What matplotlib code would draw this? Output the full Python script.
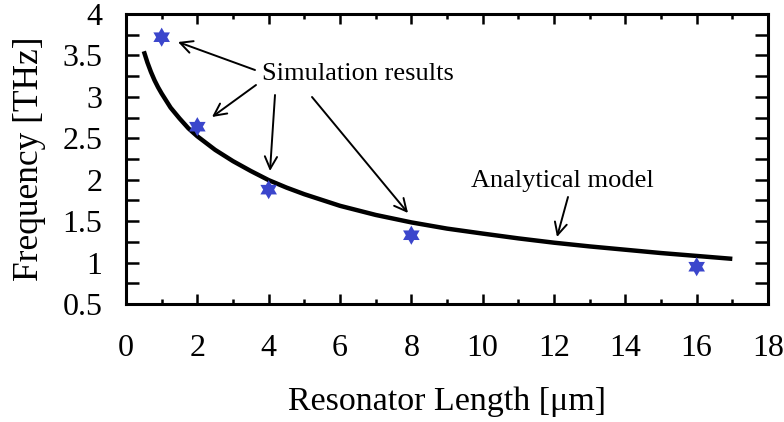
import matplotlib
matplotlib.use("Agg")
import matplotlib.pyplot as plt
from matplotlib.path import Path
import numpy as np

# Simulation results (star markers)
sim_length = [1, 2, 4, 8, 16]
sim_freq = [3.72, 2.64, 1.88, 1.33, 0.95]

# Analytical model curve
model_length = [0.5, 0.6, 0.7, 0.8, 0.9, 1.0, 1.25, 1.5, 1.75, 2.0, 2.5, 3.0, 3.5,
                4.0, 4.5, 5.0, 6.0, 7.0, 8.0, 9.0, 10.0, 11.0, 12.0, 13.0, 14.0,
                15.0, 16.0, 17.0]
model_freq = [3.55, 3.415, 3.30, 3.20, 3.115, 3.04, 2.87, 2.74, 2.62, 2.524, 2.36,
              2.224, 2.105, 1.995, 1.905, 1.825, 1.685, 1.575, 1.485, 1.41, 1.35,
              1.292, 1.24, 1.195, 1.155, 1.115, 1.08, 1.045]

xticks = [0, 2, 4, 6, 8, 10, 12, 14, 16, 18]
yticks = [0.5, 1, 1.5, 2, 2.5, 3, 3.5, 4]
ytick_labels = ["0.5", "1", "1.5", "2", "2.5", "3", "3.5", "4"]

plt.rcParams['font.family'] = ['Liberation Serif', 'DejaVu Serif']

# hexagram marker shape
hexagram = Path.unit_regular_star(6, innerCircle=1 / np.sqrt(3))

fig = plt.figure(figsize=(7.84, 4.22), dpi=100)
ax = fig.add_axes([126/784, 1 - 304/422, (768 - 126)/784, (304 - 14)/422])

ax.plot(model_length, model_freq, color='black', lw=3.2, solid_capstyle='butt',
        solid_joinstyle='round', zorder=2)
ax.scatter(sim_length, sim_freq, marker=hexagram, s=190, color='#3b46cc',
           edgecolors='none', zorder=4)

ax.set_xlim(0, 18)
ax.set_ylim(0.5, 4)
ax.set_xticks(xticks)
ax.set_xticks([1, 3, 5, 7, 9, 11, 13, 15, 17], minor=True)
ax.set_yticks(yticks)
ax.set_yticklabels(ytick_labels)
ax.set_yticks([0.75, 1.25, 1.75, 2.25, 2.75, 3.25, 3.75], minor=True)

for s in ax.spines.values():
    s.set_linewidth(2.2)

ax.tick_params(axis='both', which='both', direction='in', top=True, right=True,
               width=1.8, labelsize=23)
ax.tick_params(axis='x', which='major', length=7.5, pad=21.5)
ax.tick_params(axis='x', which='minor', length=3.8)
ax.tick_params(axis='y', which='both', length=9.5, pad=17)

ax.set_xlabel('Resonator Length [μm]', fontsize=24.5, labelpad=17)
ax.set_ylabel('Frequency [THz]', fontsize=25.5, labelpad=12)

def px2data(px, py):
    x = (px - 126) / (768 - 126) * 18
    y = 4 - (py - 14) / (304 - 14) * 3.5
    return x, y

arrow = dict(arrowstyle='->', color='black', lw=1.4, mutation_scale=22,
             shrinkA=0, shrinkB=0)

# "Simulation results" label and arrows
ax.text(*px2data(358, 74), 'Simulation results', fontsize=19, ha='center', va='center')
for (tx, ty), (hx, hy) in [((255, 70), (178, 42)), ((256, 85), (212, 117)),
                           ((275, 95), (270, 171)), ((312, 97), (408, 213))]:
    ax.annotate('', xy=px2data(hx, hy), xytext=px2data(tx, ty), arrowprops=arrow)

# "Analytical model" label and arrow
ax.text(*px2data(562, 181), 'Analytical model', fontsize=19, ha='center', va='center')
ax.annotate('', xy=px2data(557, 237), xytext=px2data(568, 197), arrowprops=arrow)

fig.savefig('out.png', dpi=100)
